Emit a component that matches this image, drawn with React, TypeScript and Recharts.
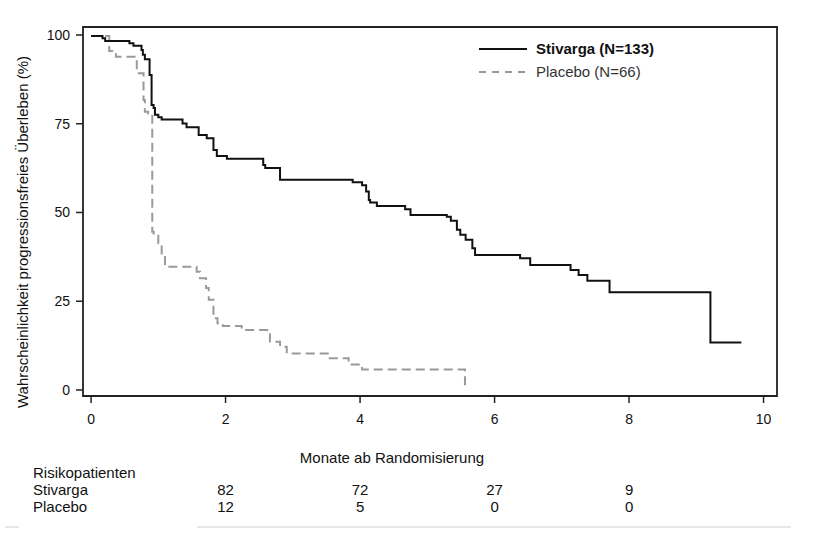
import React from 'react';
import { LineChart, Line, XAxis, YAxis, ReferenceArea } from 'recharts';

const W = 837;
const H = 549;
const FONT = '"Liberation Sans", Arial, sans-serif';

const xTicks = [0, 2, 4, 6, 8, 10];
const yTicks = [0, 25, 50, 75, 100];
const X_DOMAIN: [number, number] = [-0.12, 10.2];
const Y_DOMAIN: [number, number] = [-1.7, 102.25];

const stivargaTime = [0, 0.17, 0.21, 0.57, 0.63, 0.75, 0.77, 0.8, 0.87, 0.9, 0.93, 0.95, 1.0, 1.05, 1.36, 1.42, 1.6, 1.72, 1.82, 1.87, 2.02, 2.56, 2.59, 2.81, 3.89, 4.03, 4.09, 4.13, 4.15, 4.25, 4.67, 4.75, 5.29, 5.35, 5.44, 5.49, 5.57, 5.67, 5.71, 6.38, 6.53, 7.13, 7.25, 7.38, 7.71, 9.21, 9.67];
const stivargaSurv = [99.7, 99.1, 98.3, 97.7, 97.0, 95.8, 94.4, 93.2, 88.7, 80.3, 79.4, 77.5, 76.8, 76.2, 75.1, 74.0, 71.8, 70.9, 67.6, 65.9, 65.1, 63.4, 62.5, 59.2, 58.5, 57.7, 55.9, 53.5, 52.8, 51.8, 50.9, 49.3, 48.8, 47.7, 45.1, 43.7, 42.3, 39.9, 38.0, 37.1, 35.2, 33.8, 32.4, 30.8, 27.5, 13.4, 13.4];

const placeboTime = [0, 0.27, 0.37, 0.68, 0.78, 0.8, 0.85, 0.91, 0.93, 1.0, 1.05, 1.1, 1.57, 1.62, 1.71, 1.75, 1.82, 1.88, 1.96, 2.24, 2.66, 2.81, 2.91, 3.55, 3.83, 4.03, 5.56];
const placeboSurv = [99.7, 95.5, 93.9, 89.2, 81.7, 78.4, 77.9, 44.6, 44.1, 41.3, 38.0, 34.7, 33.3, 31.5, 28.7, 25.4, 20.2, 18.8, 18.0, 16.9, 13.6, 12.2, 10.3, 8.9, 7.2, 5.8, 0];

const riskTimes = [2, 4, 6, 8];
const riskStivarga = [82, 72, 27, 9];
const riskPlacebo = [12, 5, 0, 0];

const seriesNames = ['Stivarga (N=133)', 'Placebo (N=66)'];
const rowLabels = ['Risikopatienten', 'Stivarga', 'Placebo'];
const yLabel = 'Wahrscheinlichkeit progressionsfreies Überleben (%)';
const xLabel = 'Monate ab Randomisierung';

const stivargaData = stivargaTime.map((t, i) => ({ t, s: stivargaSurv[i] }));
const placeboData = placeboTime.map((t, i) => ({ t, s: placeboSurv[i] }));

const BLACK = '#111111';
const GRAY = '#9a9a9a';

const XTick = (props: any) => {
  const { x, y, payload } = props;
  const i = riskTimes.indexOf(payload.value);
  return (
    <g>
      <text x={x} y={y} dy="0.71em" textAnchor="middle" fontFamily={FONT} fontSize={14} fill="#111">
        {payload.value}
      </text>
      {i >= 0 && (
        <text x={x} y={495} textAnchor="middle" fontFamily={FONT} fontSize={15} fill="#111">
          {riskStivarga[i]}
        </text>
      )}
      {i >= 0 && (
        <text x={x} y={512} textAnchor="middle" fontFamily={FONT} fontSize={15} fill="#111">
          {riskPlacebo[i]}
        </text>
      )}
    </g>
  );
};

export default function App() {
  return (
    <div style={{ position: 'absolute', left: 0, top: 0, width: W, height: H, background: '#fff' }}>
      <LineChart
        width={W}
        height={H}
        margin={{ top: 27, right: 60, bottom: 113, left: 23 }}
      >
        <XAxis
          dataKey="t"
          type="number"
          domain={X_DOMAIN}
          ticks={xTicks}
          allowDataOverflow
          axisLine={false}
          tickLine={{ stroke: '#222', strokeWidth: 1.5 }}
          tickSize={7}
          tickMargin={11}
          height={40}
          tick={XTick}
        />
        <YAxis
          type="number"
          domain={Y_DOMAIN}
          ticks={yTicks}
          allowDataOverflow
          axisLine={false}
          tickLine={{ stroke: '#222', strokeWidth: 1.5 }}
          tickSize={7}
          tickMargin={6}
          width={60}
          tick={{ fontFamily: FONT, fontSize: 14, fill: '#111' }}
        />
        <ReferenceArea
          x1={X_DOMAIN[0]}
          x2={X_DOMAIN[1]}
          y1={Y_DOMAIN[0]}
          y2={Y_DOMAIN[1]}
          fill="none"
          stroke="#222"
          strokeWidth={1.8}
          ifOverflow="visible"
        />
        <Line
          data={placeboData}
          dataKey="s"
          type="stepAfter"
          stroke={GRAY}
          strokeWidth={2}
          strokeDasharray="9 5"
          dot={false}
          isAnimationActive={false}
        />
        <Line
          data={stivargaData}
          dataKey="s"
          type="stepAfter"
          stroke={BLACK}
          strokeWidth={2}
          dot={false}
          isAnimationActive={false}
        />
      </LineChart>
      <svg
        width={W}
        height={H}
        style={{ position: 'absolute', left: 0, top: 0, pointerEvents: 'none' }}
      >
        <g fontFamily={FONT} fill="#111">
          <text transform="translate(28,232) rotate(-90)" textAnchor="middle" fontSize={15}>
            {yLabel}
          </text>
          <text x={392} y={463} textAnchor="middle" fontSize={15}>
            {xLabel}
          </text>
          <text x={33} y={478} fontSize={15}>{rowLabels[0]}</text>
          <text x={33} y={495} fontSize={15}>{rowLabels[1]}</text>
          <text x={33} y={512} fontSize={15}>{rowLabels[2]}</text>
          <line x1={479} y1={49} x2={527} y2={49} stroke={BLACK} strokeWidth={2} />
          <text x={536} y={54} fontWeight="bold" fontSize={15}>{seriesNames[0]}</text>
          <line x1={479} y1={72} x2={527} y2={72} stroke={GRAY} strokeWidth={2} strokeDasharray="7 6" />
          <text x={536} y={77} fill="#333" fontSize={15}>{seriesNames[1]}</text>
        </g>
        <line x1={5} y1={527} x2={19} y2={527} stroke="#d0d0d0" strokeWidth={1} />
        <line x1={197} y1={527} x2={791} y2={527} stroke="#d0d0d0" strokeWidth={1} />
      </svg>
    </div>
  );
}
